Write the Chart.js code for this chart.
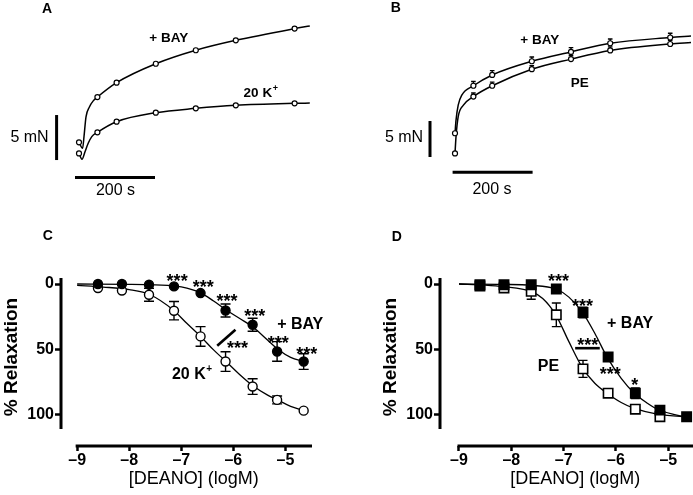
<!DOCTYPE html>
<html lang="en">
<head>
<meta charset="utf-8">
<title>DEANO relaxation</title>
<script src="https://cdn.jsdelivr.net/npm/chart.js@4.4.1/dist/chart.umd.min.js"></script>
<style>
    html, body { margin: 0; padding: 0; background: #fff; }
    #figure { position: relative; width: 693px; height: 495px; overflow: hidden; background: #fff; }
    #figure canvas { position: absolute; }
</style>
</head>
<body>
<div id="figure">
    <canvas id="chartA" width="346" height="200" style="left:0;top:0"></canvas>
    <canvas id="chartB" width="347" height="200" style="left:346px;top:0"></canvas>
    <canvas id="chartC" width="346" height="275" style="left:0;top:220px"></canvas>
    <canvas id="chartD" width="347" height="275" style="left:346px;top:220px"></canvas>
</div>
<script>
// ---------- Data ----------

// A: tension traces, time (s) vs force (mN)
const timeBayA = [0, 9, 12.5, 17.5, 26, 36, 46, 94, 192, 292, 392, 539, 577];
const forceBayA = [1.97, 1.3, 2.6, 4.8, 5.9, 6.6, 7.0, 8.6, 10.7, 12.2, 13.3, 14.6, 14.9];
const time20KA = [0, 7.5, 15, 23, 32, 46, 94, 192, 292, 392, 539, 577];
const force20KA = [0.74, 0.08, 0.92, 1.86, 2.6, 3.08, 4.26, 5.26, 5.74, 6.08, 6.3, 6.33];
const markTimeA = [0, 46, 94, 192, 292, 392, 539];
const markBayA = [1.97, 7.0, 8.6, 10.7, 12.2, 13.3, 14.6];
const mark20KA = [0.74, 3.08, 4.26, 5.26, 5.74, 6.08, 6.3];

// B: tension traces, time (s) vs force (mN)
const timeBayB = [0, 2.5, 8, 17, 46, 93, 192, 290, 388, 538, 590];
const forceBayB = [3.3, 5.1, 7.2, 8.6, 9.9, 11.4, 13.3, 14.6, 15.8, 16.6, 16.8];
const timePEB = [0, 2.5, 8, 21, 46, 93, 192, 290, 388, 538, 590];
const forcePEB = [0.5, 2.8, 5.6, 7.2, 8.4, 9.9, 12.2, 13.6, 14.8, 15.7, 15.9];
const markTimeB = [0, 46, 93, 192, 290, 388, 538];
const markBayB = [3.3, 9.9, 11.4, 13.3, 14.6, 15.8, 16.6];
const markPEB = [0.5, 8.4, 9.9, 12.2, 13.6, 14.8, 15.7];
const semBayB = [0, 0.6, 0.6, 0.6, 0.6, 0.6, 0.6];
const semPEB = [0, 0.5, 0.5, 0.5, 0.5, 0.5, 0.5];

// C / D: concentration-response, log[DEANO] vs % relaxation
const logConc = [-8.6, -8.14, -7.62, -7.14, -6.63, -6.15, -5.63, -5.16, -4.65];

const relax20K = [3, 5, 8.2, 20.4, 40, 59.2, 78.3, 88.5, 96.7];
const sem20K = [0, 0, 5, 7, 7.5, 7.5, 6, 3, 0];
const relaxBayC = [0, 0, 0.5, 1.8, 6.9, 20.2, 31.1, 51.5, 59.2];
const semBayC = [0, 0, 0, 0, 0, 5, 5, 7.5, 6];

const relaxPE = [1.5, 3, 5.6, 23.5, 64.8, 83.4, 95.6, 101.3];
const semPE = [0, 0, 6, 9, 6.5, 2, 0, 0];
const relaxBayD = [0.5, 0.5, 0.5, 3.8, 21.7, 55.8, 83.4, 96.3, 101.3];
const semBayD = [0, 0, 0, 0, 4, 3, 4, 0, 0];

// fitted curves
const fitX20K = [-9, -8.5, -8, -7.6, -7.15, -6.9, -6.63, -6.38, -6.14, -5.87, -5.63, -5.35, -5.15, -4.9, -4.64];
const fit20K = [1, 2.3, 4.3, 8.2, 20, 29.8, 40, 50.3, 59.2, 69.4, 77.5, 84.7, 88.5, 93.5, 96.7];
const fitXBayC = [-9, -8, -7.5, -7, -6.62, -6.38, -6.13, -5.87, -5.62, -5.35, -5.14, -4.9, -4.64];
const fitBayC = [0, 0.2, 0.7, 2.2, 6.9, 13, 20, 26.5, 33, 42.5, 50, 56, 59.2];
const fitXPE = [-9, -8.5, -8.15, -7.63, -7.4, -7.15, -6.9, -6.64, -6.4, -6.17, -5.9, -5.65, -5.19, -4.66, -4.55];
const fitPE = [0, 0.8, 2, 5.6, 11, 23.5, 44, 64, 76, 83.4, 90.5, 95, 99.5, 101.3, 101.5];
const fitXBayD = [-9, -8.15, -7.63, -7.15, -6.9, -6.64, -6.4, -6.17, -5.9, -5.65, -5.4, -5.19, -4.9, -4.66, -4.55];
const fitBayD = [0, 0.3, 1, 3.8, 10, 21.7, 38, 55.8, 72, 83.4, 91, 96, 99.5, 101.3, 101.5];

// significance marks (data coordinates of the glyph centre)
const starXC = [-7.08, -6.58, -6.12, -5.59, -5.14, -4.59, -5.92];
const starYC = [-5.8, -0.8, 9.5, 20.9, 41.3, 49.7, 45.7];
const starXD = [-7.10, -6.64, -6.54, -6.11, -5.64];
const starYD = [-5.8, 13.3, 43.4, 65.6, 73.9];
const starTextD = ['***', '***', '***', '***', '*'];

// axis ticks
const xTicks = [-9, -8, -7, -6, -5];
const yTicks = [0, 50, 100];

const Figure = (function() {
    'use strict';

    const FONT = "Arial, 'Liberation Sans', Helvetica, sans-serif";
    const BLACK = '#000';

    function toPoints(xs, ys) {
        return ys.map((v, i) => ({ x: xs[i], y: v }));
    }

    function lineSet(points, width) {
        return {
            data: points,
            showLine: true,
            borderColor: BLACK,
            borderWidth: width,
            pointRadius: 0,
            cubicInterpolationMode: 'monotone',
            fill: false,
            clip: false,
            order: 5
        };
    }

    function markerSet(points, style, radius, fill, order, border) {
        return {
            data: points,
            showLine: false,
            pointStyle: style,
            pointRadius: radius,
            pointBackgroundColor: fill,
            backgroundColor: fill,
            pointBorderColor: BLACK,
            borderColor: BLACK,
            pointBorderWidth: border || 1.2,
            clip: false,
            order: order
        };
    }

    /**
     * Texto con superíndice opcional, centrado en (px, py)
     */
    function drawLabel(ctx, it, px, py) {
        const weight = it.bold ? 'bold ' : '';
        ctx.fillStyle = BLACK;
        ctx.textBaseline = 'middle';
        ctx.font = weight + it.size + 'px ' + FONT;
        if (!it.sup) {
            ctx.textAlign = 'center';
            ctx.fillText(it.text, px, py);
            return;
        }
        const w = ctx.measureText(it.text).width;
        const supSize = Math.round(it.size * 0.65);
        ctx.font = weight + supSize + 'px ' + FONT;
        const ws = ctx.measureText(it.sup).width;
        const left = px - (w + ws) / 2;
        ctx.textAlign = 'left';
        ctx.fillText(it.sup, left + w + 0.5, py - it.size * 0.36);
        ctx.font = weight + it.size + 'px ' + FONT;
        ctx.fillText(it.text, left, py);
    }

    /**
     * Plugin: labels, stars, scale bars and comparison lines
     */
    function annotations(items) {
        return {
            id: 'annotations',
            afterDatasetsDraw(chart) {
                const { ctx, scales: { x, y } } = chart;
                ctx.save();
                items.forEach(it => {
                    const px = it.px !== undefined ? it.px : x.getPixelForValue(it.x);
                    const py = it.py !== undefined ? it.py : y.getPixelForValue(it.y);
                    if (it.x2 !== undefined) {
                        ctx.strokeStyle = BLACK;
                        ctx.lineWidth = it.width;
                        ctx.lineCap = 'butt';
                        ctx.beginPath();
                        ctx.moveTo(px, py);
                        ctx.lineTo(x.getPixelForValue(it.x2), y.getPixelForValue(it.y2));
                        ctx.stroke();
                    } else if (it.stars) {
                        ctx.fillStyle = BLACK;
                        ctx.font = 'bold ' + it.size + 'px ' + FONT;
                        ctx.textAlign = 'center';
                        ctx.textBaseline = 'alphabetic';
                        ctx.fillText(it.stars, px, py + it.size * 0.58);
                    } else {
                        drawLabel(ctx, it, px, py);
                    }
                });
                ctx.restore();
            }
        };
    }

    /**
     * Plugin: vertical error bars (mean ± SEM)
     */
    function errorBars(series, capHalf, upOnly) {
        return {
            id: 'errorBars',
            beforeDatasetsDraw(chart) {
                const { ctx, scales: { x, y } } = chart;
                ctx.save();
                ctx.strokeStyle = BLACK;
                ctx.lineWidth = 1.4;
                series.forEach(s => {
                    s.ys.forEach((v, i) => {
                        const e = s.err[i];
                        if (!e) return;
                        const px = x.getPixelForValue(s.xs[i]);
                        const pHi = y.getPixelForValue(v + e);
                        const pLo = y.getPixelForValue(upOnly ? v : v - e);
                        ctx.beginPath();
                        ctx.moveTo(px, pLo);
                        ctx.lineTo(px, pHi);
                        ctx.moveTo(px - capHalf, pHi);
                        ctx.lineTo(px + capHalf, pHi);
                        if (!upOnly) {
                            ctx.moveTo(px - capHalf, pLo);
                            ctx.lineTo(px + capHalf, pLo);
                        }
                        ctx.stroke();
                    });
                });
                ctx.restore();
            }
        };
    }

    /**
     * Plugin: Prism-style detached axis lines and titles
     */
    function detachedAxes(cfg) {
        return {
            id: 'detachedAxes',
            afterDraw(chart) {
                const { ctx, chartArea: a, scales: { x, y } } = chart;
                const x0 = x.getPixelForValue(cfg.xFrom) - 1.5;
                ctx.save();
                ctx.strokeStyle = BLACK;
                ctx.lineWidth = 3;
                ctx.beginPath();
                ctx.moveTo(a.left, y.getPixelForValue(cfg.yFrom));
                ctx.lineTo(a.left, y.getPixelForValue(cfg.yTo));
                ctx.moveTo(x0, a.bottom);
                ctx.lineTo(a.right, a.bottom);
                ctx.stroke();

                ctx.fillStyle = BLACK;
                ctx.textAlign = 'center';
                ctx.textBaseline = 'middle';
                ctx.font = '18px ' + FONT;
                ctx.fillText('[DEANO] (logM)', (x0 + a.right) / 2, a.bottom + 33);

                ctx.translate(a.left - 49, a.top + 79);
                ctx.rotate(-Math.PI / 2);
                ctx.font = 'bold 19px ' + FONT;
                ctx.fillText('% Relaxation', 0, 0);
                ctx.restore();
            }
        };
    }

    function baseOptions(padding, scales) {
        return {
            responsive: false,
            animation: false,
            devicePixelRatio: 1,
            events: [],
            layout: { padding: padding, autoPadding: false },
            plugins: {
                legend: { display: false },
                tooltip: { enabled: false },
                title: { display: false }
            },
            scales: scales
        };
    }

    function hiddenScales(xmin, xmax, ymin, ymax) {
        return {
            x: { type: 'linear', display: false, min: xmin, max: xmax },
            y: { type: 'linear', display: false, min: ymin, max: ymax }
        };
    }

    function doseScales(xmin, xmax, yWidth) {
        const tickFont = { family: FONT, size: 16, weight: 'bold' };
        return {
            x: {
                type: 'linear',
                min: xmin,
                max: xmax,
                afterBuildTicks: s => { s.ticks = xTicks.map(v => ({ value: v })); },
                afterFit: s => { s.height = 49; },
                grid: { drawOnChartArea: false, drawTicks: true, tickLength: 5, tickWidth: 2.5, color: BLACK, tickColor: BLACK },
                border: { display: false },
                ticks: {
                    color: BLACK,
                    font: tickFont,
                    padding: 0,
                    autoSkip: false,
                    maxRotation: 0,
                    callback: v => (v < 0 ? '\u2013' + Math.abs(v) : String(v))
                }
            },
            y: {
                type: 'linear',
                reverse: true,
                min: -4.6,
                max: 123.7,
                afterBuildTicks: s => { s.ticks = yTicks.map(v => ({ value: v })); },
                afterFit: s => { s.width = yWidth; },
                grid: { drawOnChartArea: false, drawTicks: true, tickLength: 6, tickWidth: 2.5, color: BLACK, tickColor: BLACK },
                border: { display: false },
                ticks: { color: BLACK, font: tickFont, padding: 1, autoSkip: false }
            }
        };
    }

    /**
     * Panel A: +BAY vs 20 K+ traces
     */
    function initPanelA() {
        new Chart(document.getElementById('chartA'), {
            type: 'scatter',
            data: {
                datasets: [
                    lineSet(toPoints(timeBayA, forceBayA), 1.5),
                    lineSet(toPoints(time20KA, force20KA), 1.5),
                    markerSet(toPoints(markTimeA, markBayA), 'circle', 2.5, '#fff', 0),
                    markerSet(toPoints(markTimeA, mark20KA), 'circle', 2.5, '#fff', 1)
                ]
            },
            options: baseOptions(0, hiddenScales(-197.5, 667.5, -4.44, 17.78)),
            plugins: [annotations([
                { x: -10, y: -1.93, x2: 190, y2: -1.93, width: 3 },
                { x: -56, y: 0, x2: -56, y2: 5, width: 3 },
                { text: '5 mN', x: -123.75, y: 2.44, size: 16 },
                { text: '200 s', x: 91.25, y: -3.41, size: 16 },
                { text: '+ BAY', x: 224.5, y: 13.5, size: 13.5, bold: true },
                { text: '20 K', sup: '+', x: 453.75, y: 7.41, size: 13.5, bold: true },
                { text: 'A', px: 47, py: 9.5, size: 14, bold: true }
            ])]
        });
    }

    /**
     * Panel B: +BAY vs PE traces
     */
    function initPanelB() {
        new Chart(document.getElementById('chartB'), {
            type: 'scatter',
            data: {
                datasets: [
                    lineSet(toPoints(timeBayB, forceBayB), 1.5),
                    lineSet(toPoints(timePEB, forcePEB), 1.5),
                    markerSet(toPoints(markTimeB, markBayB), 'circle', 2.5, '#fff', 0),
                    markerSet(toPoints(markTimeB, markPEB), 'circle', 2.5, '#fff', 1)
                ]
            },
            options: baseOptions(0, hiddenScales(-272.5, 595, -5.97, 21.81)),
            plugins: [
                errorBars([
                    { xs: markTimeB, ys: markBayB, err: semBayB },
                    { xs: markTimeB, ys: markPEB, err: semPEB }
                ], 2.3, true),
                annotations([
                    { x: -6, y: -2.13, x2: 194, y2: -2.13, width: 3 },
                    { x: -62.5, y: 0, x2: -62.5, y2: 5, width: 3 },
                    { text: '5 mN', x: -127.5, y: 2.68, size: 16 },
                    { text: '200 s', x: 92.5, y: -4.49, size: 16 },
                    { text: '+ BAY', x: 211.75, y: 16.15, size: 13.5, bold: true },
                    { text: 'PE', x: 311.75, y: 10.3, size: 13.5, bold: true },
                    { text: 'B', px: 49.8, py: 7.7, size: 14, bold: true }
                ])
            ]
        });
    }

    /**
     * Panel C: 20 K+ vs +BAY concentration-response
     */
    function initPanelC() {
        const stars = starXC.map((v, i) => ({ stars: '***', x: v, y: starYC[i], size: 18 }));
        new Chart(document.getElementById('chartC'), {
            type: 'scatter',
            data: {
                datasets: [
                    lineSet(toPoints(fitX20K, fit20K), 1.3),
                    lineSet(toPoints(fitXBayC, fitBayC), 1.3),
                    markerSet(toPoints(logConc, relaxBayC), 'circle', 4.5, BLACK, 0, 1.4),
                    markerSet(toPoints(logConc, relax20K), 'circle', 4.5, '#fff', 1, 1.4)
                ]
            },
            options: baseOptions({ top: 58, right: 34, left: 0, bottom: 0 }, doseScales(-9.31, -4.49, 61)),
            plugins: [
                detachedAxes({ xFrom: -9, yFrom: -4.6, yTo: 110.7 }),
                errorBars([
                    { xs: logConc, ys: relax20K, err: sem20K },
                    { xs: logConc, ys: relaxBayC, err: semBayC }
                ], 5, false),
                annotations(stars.concat([
                    { x: -6.31, y: 47.2, x2: -5.96, y2: 34.9, width: 2.6 },
                    { text: '+ BAY', x: -4.716, y: 31, size: 16, bold: true },
                    { text: '20 K', sup: '+', x: -6.80, y: 69.4, size: 16, bold: true },
                    { text: 'C', px: 47.7, py: 15.8, size: 14, bold: true }
                ]))
            ]
        });
    }

    /**
     * Panel D: PE vs +BAY concentration-response
     */
    function initPanelD() {
        const stars = starXD.map((v, i) => ({ stars: starTextD[i], x: v, y: starYD[i], size: 18 }));
        new Chart(document.getElementById('chartD'), {
            type: 'scatter',
            data: {
                datasets: [
                    lineSet(toPoints(fitXPE, fitPE), 1.3),
                    lineSet(toPoints(fitXBayD, fitBayD), 1.3),
                    markerSet(toPoints(logConc, relaxBayD), 'rect', 6.6, BLACK, 0, 1.6),
                    markerSet(toPoints(logConc, relaxPE), 'rect', 6.6, '#fff', 1, 1.6)
                ]
            },
            options: baseOptions({ top: 58, right: 0, left: 0, bottom: 0 }, doseScales(-9.363, -4.528, 94)),
            plugins: [
                detachedAxes({ xFrom: -9, yFrom: -4.6, yTo: 110.7 }),
                errorBars([
                    { xs: logConc, ys: relaxPE, err: semPE },
                    { xs: logConc, ys: relaxBayD, err: semBayD }
                ], 4.5, false),
                annotations(stars.concat([
                    { x: -6.78, y: 49, x2: -6.31, y2: 49, width: 2.6 },
                    { text: '+ BAY', x: -5.73, y: 30.4, size: 16, bold: true },
                    { text: 'PE', x: -7.29, y: 63, size: 16, bold: true },
                    { text: 'D', px: 50.8, py: 16.8, size: 14, bold: true }
                ]))
            ]
        });
    }

    function init() {
        initPanelA();
        initPanelB();
        initPanelC();
        initPanelD();
    }

    return { init: init };
})();

document.addEventListener('DOMContentLoaded', Figure.init);
</script>
</body>
</html>
